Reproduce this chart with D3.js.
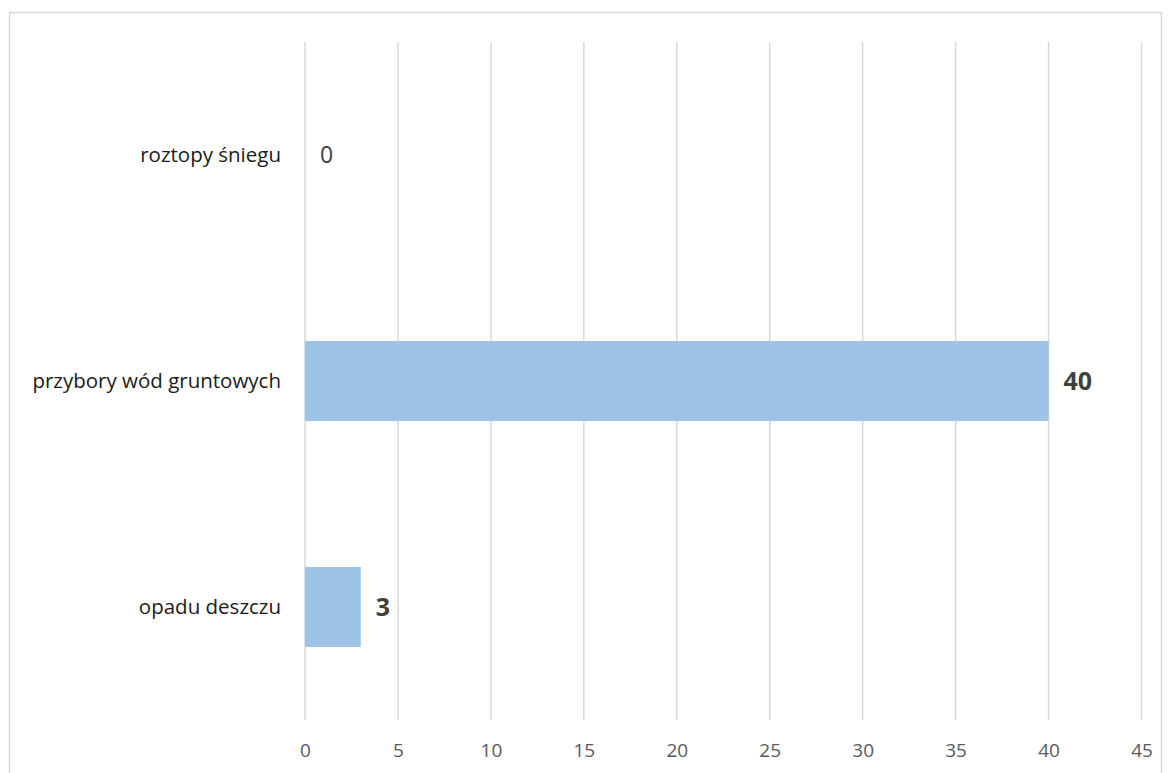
<!DOCTYPE html>
<html><head><meta charset="utf-8">
<script src="https://cdn.jsdelivr.net/npm/d3@7/dist/d3.min.js"></script>
<style>body{margin:0;background:#fff}svg{display:block}</style>
</head><body>
<svg id="c" width="1170" height="773"></svg>
<script>
const categories = ["roztopy śniegu", "przybory wód gruntowych", "opadu deszczu"];
const values = [0, 40, 3];
const ticks = [0, 5, 10, 15, 20, 25, 30, 35, 40, 45];

const svg = d3.select("#c");
const font = "'Open Sans', sans-serif";

svg.append("rect").attr("x", 9.5).attr("y", 12.5).attr("width", 1152).attr("height", 780)
  .attr("fill", "none").attr("stroke", "#d9d9d9").attr("stroke-width", 1.5);

const x = d3.scaleLinear().domain([0, 45]).range([305, 1141.5]);
const y = d3.scaleBand().domain(categories).range([42, 720]).paddingInner(0.646).paddingOuter(0.323);

svg.append("g").selectAll("line").data(ticks).join("line")
  .attr("x1", d => x(d)).attr("x2", d => x(d)).attr("y1", 42).attr("y2", 720)
  .attr("stroke", "#d9d9d9").attr("stroke-width", 1.5);

const xa = d3.axisBottom(x).tickValues(ticks).tickSize(0).tickPadding(0);
const gx = svg.append("g").attr("transform", "translate(0,739)").call(xa);
gx.select(".domain").remove();
gx.selectAll("text").attr("font-family", font).attr("font-size", 19).attr("fill", "#595959")
  .attr("dy", "0.95em").attr("y", 0);

const ya = d3.axisLeft(y).tickSize(0).tickPadding(24);
const gy = svg.append("g").attr("transform", "translate(305,0)").call(ya);
gy.select(".domain").remove();
gy.selectAll("text").attr("font-family", font).attr("font-size", 20.5).attr("fill", "#1a1a1a");

svg.append("g").selectAll("rect").data(values).join("rect")
  .attr("x", x(0)).attr("y", (d, i) => y(categories[i]))
  .attr("width", d => x(d) - x(0)).attr("height", y.bandwidth())
  .attr("fill", "#9DC3E6");

svg.append("g").selectAll("text").data(values).join("text")
  .attr("x", d => x(d) + 15).attr("y", (d, i) => y(categories[i]) + y.bandwidth() / 2)
  .attr("dy", "0.36em")
  .attr("font-family", font).attr("font-size", d => d === 0 ? 23 : 25)
  .attr("font-weight", d => d === 0 ? "normal" : "bold")
  .attr("fill", "#404040")
  .text(d => d);
</script>
</body></html>
